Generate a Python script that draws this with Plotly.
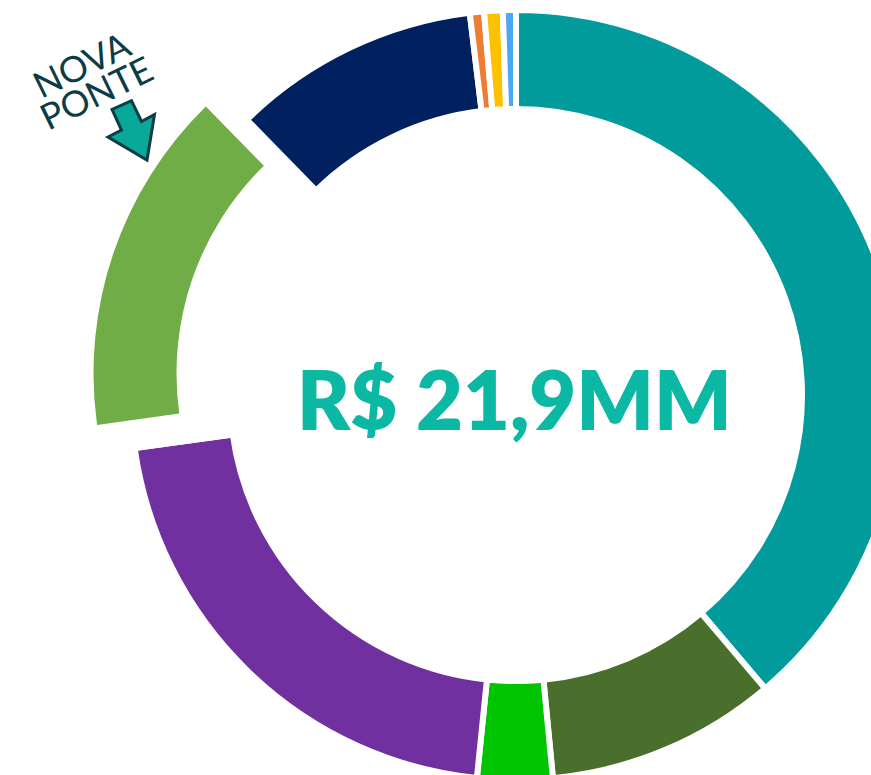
import plotly.graph_objects as go

# Dados (R$ milhões) - fatias no sentido horário a partir das 12h
labels = ["Usina A", "Usina B", "Usina C", "Usina D", "Nova Ponte",
          "Usina E", "Usina F", "Usina G", "Usina H"]
values = [8.50, 2.12, 0.69, 4.64, 3.26, 2.28, 0.13, 0.17, 0.12]
colors = ["#009B9A", "#4A6F2C", "#00C400", "#7030A0", "#70AD47",
          "#002060", "#ED7D31", "#FFC000", "#4BA8F5"]
destaque = "Nova Ponte"
total_txt = "R$ 21,9MM"

W, H = 905, 780


def px_x(x):
    return x / W


def px_y(y):
    return 1 - y / H


# anel principal: centro (516, 395), raio 385 (corta na borda direita)
cx, cy, r = 516, 395, 385
# fatia destacada (deslocada para fora): centro (467, 373.5), raio 373.5
gx, gy, gr = 467, 373.5, 373.5

main_colors = ["rgba(0,0,0,0)" if l == destaque else c for l, c in zip(labels, colors)]
pull_colors = [c if l == destaque else "rgba(0,0,0,0)" for l, c in zip(labels, colors)]

fig = go.Figure()

fig.add_trace(go.Pie(
    labels=labels, values=values, sort=False, direction="clockwise", rotation=0,
    hole=286 / 385, textinfo="none",
    marker=dict(colors=main_colors, line=dict(color="white", width=6)),
    domain=dict(x=[px_x(cx - r), px_x(cx + r)], y=[px_y(cy + r), px_y(cy - r)]),
    showlegend=False,
))

fig.add_trace(go.Pie(
    labels=labels, values=values, sort=False, direction="clockwise", rotation=0,
    hole=290.5 / 373.5, textinfo="none",
    marker=dict(colors=pull_colors, line=dict(width=0)),
    domain=dict(x=[px_x(gx - gr), px_x(gx + gr)], y=[px_y(gy + gr), 1]),
    showlegend=False, hoverinfo="skip",
))

# seta "Nova Ponte"
arrow_pts = [(112, 109.5), (121.5, 130.1), (108, 137), (147, 160),
             (154.5, 114.5), (141.5, 121.5), (131.5, 100.7)]
path = "M " + " L ".join(f"{px_x(x):.5f},{px_y(y):.5f}" for x, y in arrow_pts) + " Z"

fig.update_layout(
    width=W, height=H,
    margin=dict(l=0, r=0, t=0, b=0),
    paper_bgcolor="white",
    plot_bgcolor="white",
    shapes=[dict(type="path", xref="paper", yref="paper", path=path,
                 fillcolor="#0AA898", line=dict(color="#0C3C46", width=3))],
    annotations=[
        dict(text=total_txt, x=px_x(514.5), y=px_y(399), xref="paper", yref="paper",
             showarrow=False, xanchor="center", yanchor="middle",
             font=dict(family="Lato", size=81, color="#0BB8A4", weight=800)),
        dict(text="NOVA", x=px_x(81), y=px_y(64), xref="paper", yref="paper",
             showarrow=False, textangle=-26, xanchor="center", yanchor="middle",
             font=dict(family="Lato", size=36, color="#0C3C46")),
        dict(text="PONTE", x=px_x(96), y=px_y(92), xref="paper", yref="paper",
             showarrow=False, textangle=-26, xanchor="center", yanchor="middle",
             font=dict(family="Lato", size=36, color="#0C3C46")),
    ],
)

# figura maior que a janela: sem margem do body e sem barras de rolagem
fig.write_html("out.html", config={"displayModeBar": False}, post_script=(
    "document.body.style.margin='0';"
    "document.body.style.overflow='hidden';"
    "document.documentElement.style.overflow='hidden';"))
